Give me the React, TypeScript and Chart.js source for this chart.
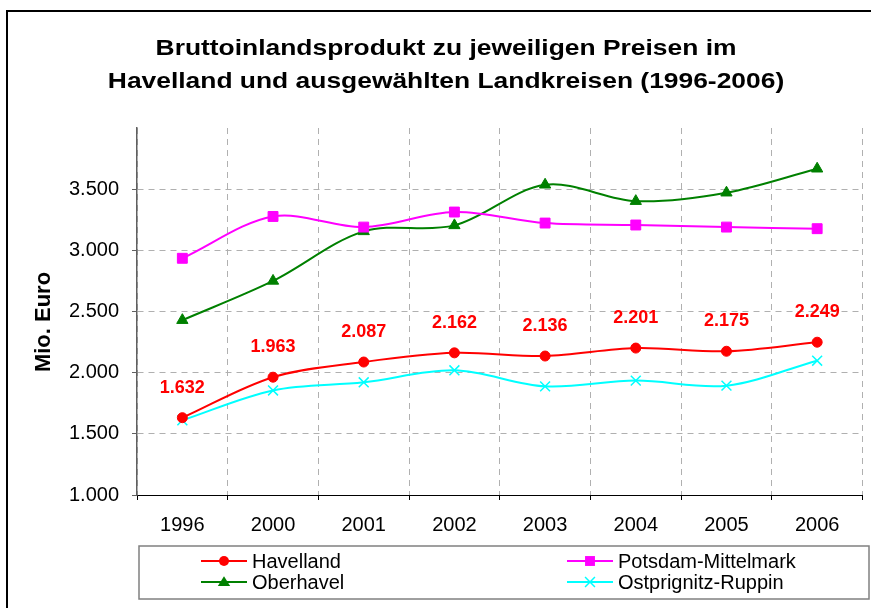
import React, { useEffect, useRef } from "react";
import { Chart, registerables } from "chart.js";

Chart.register(...registerables);

const years = ["1996", "2000", "2001", "2002", "2003", "2004", "2005", "2006"];
const havelland = [1632, 1963, 2087, 2162, 2136, 2201, 2175, 2249];
const potsdamMittelmark = [2935, 3277, 3190, 3313, 3223, 3207, 3190, 3177];
const oberhavel = [2429, 2750, 3155, 3204, 3536, 3402, 3471, 3667];
const ostprignitzRuppin = [1611, 1855, 1921, 2019, 1888, 1935, 1894, 2098];

const seriesNames = ["Havelland", "Potsdam-Mittelmark", "Oberhavel", "Ostprignitz-Ruppin"];
const seriesColors = ["#ff0000", "#ff00ff", "#008000", "#00ffff"];
const seriesMarkers = ["circle", "rect", "triangle", "crossRot"];
const seriesMarkerRadius = [5, 7, 6.5, 7];

const titleLines = [
  "Bruttoinlandsprodukt zu jeweiligen Preisen im",
  "Havelland und ausgewählten Landkreisen (1996-2006)",
];
const yAxisTitle = "Mio. Euro";
const yMin = 1000;
const yMax = 4000;
const yStep = 500;

const FONT = "'Liberation Sans', Arial, Helvetica, sans-serif";

function fmt(v: number): string {
  return String(Math.round(v)).replace(/\B(?=(\d{3})+(?!\d))/g, ".");
}

function drawMarker(ctx: CanvasRenderingContext2D, style: string, x: number, y: number, r: number, color: string) {
  ctx.save();
  ctx.fillStyle = color;
  ctx.strokeStyle = color;
  ctx.lineWidth = 1.5;
  ctx.beginPath();
  if (style === "circle") {
    ctx.arc(x, y, r, 0, Math.PI * 2);
    ctx.fill();
  } else if (style === "rect") {
    const s = Math.SQRT1_2 * r;
    ctx.rect(x - s, y - s, 2 * s, 2 * s);
    ctx.fill();
  } else if (style === "triangle") {
    const h = r * 1.5;
    const w = r * 0.95;
    ctx.moveTo(x, y - h * 0.6);
    ctx.lineTo(x + w, y + h * 0.4);
    ctx.lineTo(x - w, y + h * 0.4);
    ctx.closePath();
    ctx.fill();
  } else {
    const d = Math.SQRT1_2 * r;
    ctx.moveTo(x - d, y - d);
    ctx.lineTo(x + d, y + d);
    ctx.moveTo(x + d, y - d);
    ctx.lineTo(x - d, y + d);
    ctx.stroke();
  }
  ctx.restore();
}

const framePlugin = {
  id: "framePlugin",
  beforeDraw(chart: any) {
    const ctx = chart.ctx as CanvasRenderingContext2D;
    ctx.save();
    ctx.fillStyle = "#ffffff";
    ctx.fillRect(0, 0, 871, 608);
    ctx.strokeStyle = "#000000";
    ctx.lineWidth = 2;
    ctx.beginPath();
    ctx.moveTo(7, 700);
    ctx.lineTo(7, 11);
    ctx.lineTo(1000, 11);
    ctx.stroke();
    ctx.restore();
  },
  afterDraw(chart: any) {
    const ctx = chart.ctx as CanvasRenderingContext2D;
    // title
    ctx.save();
    ctx.font = `bold 22px ${FONT}`;
    ctx.fillStyle = "#000000";
    ctx.textAlign = "center";
    ctx.textBaseline = "alphabetic";
    titleLines.forEach((t, i) => {
      ctx.save();
      ctx.translate(446, 55 + i * 33);
      ctx.scale(1.2, 1);
      ctx.fillText(t, 0, 0);
      ctx.restore();
    });
    ctx.restore();

    // y axis title
    ctx.save();
    ctx.font = `bold 22px ${FONT}`;
    ctx.fillStyle = "#000000";
    ctx.textAlign = "center";
    ctx.textBaseline = "middle";
    ctx.translate(44, 322);
    ctx.rotate(-Math.PI / 2);
    ctx.fillText(yAxisTitle, 0, 0);
    ctx.restore();

    // legend
    ctx.save();
    ctx.strokeStyle = "#808080";
    ctx.lineWidth = 1.5;
    ctx.strokeRect(139, 546, 730, 53);
    ctx.font = `20px ${FONT}`;
    ctx.textAlign = "left";
    ctx.textBaseline = "middle";
    const colX = [201, 567];
    const rowY = [561, 582];
    chart.data.datasets.forEach((ds: any, i: number) => {
      const x0 = colX[i % 2];
      const y0 = rowY[Math.floor(i / 2)];
      ctx.strokeStyle = seriesColors[i];
      ctx.lineWidth = 2;
      ctx.beginPath();
      ctx.moveTo(x0, y0);
      ctx.lineTo(x0 + 46, y0);
      ctx.stroke();
      drawMarker(ctx, seriesMarkers[i], x0 + 23, y0, seriesMarkerRadius[i], seriesColors[i]);
      ctx.fillStyle = "#000000";
      ctx.fillText(ds.label, x0 + 51, y0 + 1);
    });
    ctx.restore();
  },
  afterDatasetsDraw(chart: any) {
    const ctx = chart.ctx as CanvasRenderingContext2D;
    const meta = chart.getDatasetMeta(0);
    ctx.save();
    ctx.font = `bold 18px ${FONT}`;
    ctx.fillStyle = "#ff0000";
    ctx.textAlign = "center";
    ctx.textBaseline = "middle";
    meta.data.forEach((pt: any, i: number) => {
      ctx.fillText(fmt(havelland[i]), pt.x, pt.y - 30);
    });
    ctx.restore();
  },
};

export default function App() {
  const ref = useRef<HTMLCanvasElement | null>(null);

  useEffect(() => {
    if (!ref.current) return;
    const allSeries = [havelland, potsdamMittelmark, oberhavel, ostprignitzRuppin];
    const chart = new Chart(ref.current, {
      type: "line",
      data: {
        labels: years,
        datasets: allSeries.map((d, i) => ({
          label: seriesNames[i],
          data: d,
          borderColor: seriesColors[i],
          backgroundColor: seriesColors[i],
          pointBackgroundColor: seriesColors[i],
          pointBorderColor: seriesColors[i],
          pointStyle: seriesMarkers[i] as any,
          pointRadius: seriesMarkerRadius[i],
          pointBorderWidth: i === 3 ? 1.5 : 1,
          borderWidth: 2,
          tension: 0.33,
          fill: false,
        })),
      },
      options: {
        responsive: false,
        animation: false,
        devicePixelRatio: 1,
        layout: { padding: { left: 30, right: 6, top: 128, bottom: 73 } },
        plugins: {
          legend: { display: false },
          title: { display: false },
          tooltip: { enabled: false },
        },
        scales: {
          x: {
            offset: true,
            grid: {
              offset: true,
              color: "#b0b0b0",
              lineWidth: 1,
              tickLength: 5,
              tickColor: "#000000",
            },
            border: { color: "#000000", width: 1, dash: [6, 5] },
            ticks: {
              color: "#000000",
              font: { family: FONT, size: 20 },
              padding: 13,
              maxRotation: 0,
              autoSkip: false,
            },
            afterFit: (scale: any) => {
              scale.height = 40;
            },
          },
          y: {
            min: yMin,
            max: yMax,
            grid: {
              color: "#b0b0b0",
              lineWidth: 1,
              tickLength: 5,
              tickColor: "#606060",
            },
            border: { color: "#606060", width: 1.5, dash: [6, 5] },
            ticks: {
              stepSize: yStep,
              color: "#000000",
              font: { family: FONT, size: 20 },
              padding: 13,
              callback: (v: any) => (Number(v) >= yMax ? null : fmt(Number(v))),
            },
            title: { display: false },
            afterFit: (scale: any) => {
              scale.width = 107;
            },
          },
        },
      },
      plugins: [framePlugin],
    });
    return () => chart.destroy();
  }, []);

  return (
    <div style={{ position: "absolute", left: 0, top: 0, width: 871, height: 608, overflow: "hidden" }}>
      <canvas ref={ref} width={871} height={608} style={{ display: "block" }} />
    </div>
  );
}
